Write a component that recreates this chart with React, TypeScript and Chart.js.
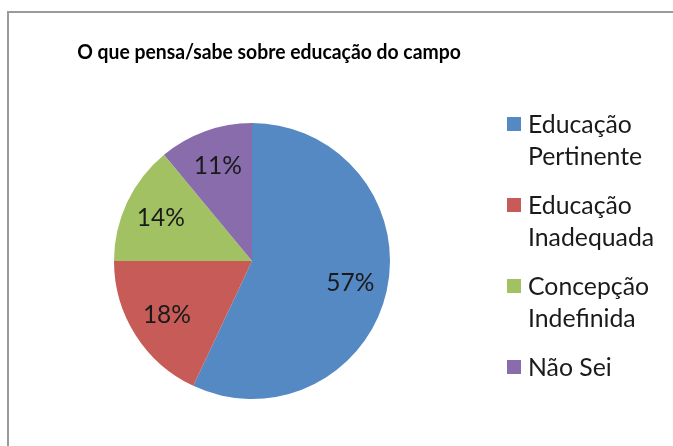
import React, { useEffect, useRef } from "react";
import { Chart, registerables } from "chart.js";

Chart.register(...registerables);

const TITLE = "O que pensa/sabe sobre educação do campo";
const categories: string[][] = [
  ["Educação", "Pertinente"],
  ["Educação", "Inadequada"],
  ["Concepção", "Indefinida"],
  ["Não Sei"],
];
const values = [57, 18, 14, 11];
const colors = ["#5589c4", "#c75b57", "#a2c162", "#896cab"];

const FONT = "Lato, 'Open Sans', sans-serif";

const overlayPlugin = {
  id: "overlay",
  afterDraw(chart: any) {
    const ctx = chart.ctx as CanvasRenderingContext2D;
    ctx.save();
    // title (slightly condensed to mimic Calibri)
    ctx.fillStyle = "#000";
    ctx.font = `bold 21.5px ${FONT}`;
    ctx.textAlign = "center";
    ctx.textBaseline = "alphabetic";
    const sx = 0.9;
    ctx.save();
    ctx.translate(269, 59);
    ctx.scale(sx, 1);
    ctx.fillText(TITLE, 0, 0);
    ctx.restore();

    // data labels
    const meta = chart.getDatasetMeta(0);
    ctx.font = `24.5px ${FONT}`;
    ctx.textAlign = "center";
    ctx.textBaseline = "middle";
    ctx.fillStyle = "#1a1a1a";
    meta.data.forEach((arc: any, i: number) => {
      const { startAngle, endAngle, x, y, outerRadius } = arc.getProps(
        ["startAngle", "endAngle", "x", "y", "outerRadius"],
        true
      );
      const mid = (startAngle + endAngle) / 2;
      const r = outerRadius * 0.73;
      ctx.fillText(values[i] + "%", x + Math.cos(mid) * r, y + Math.sin(mid) * r);
    });

    // legend
    ctx.textAlign = "left";
    ctx.textBaseline = "alphabetic";
    categories.forEach((lines, i) => {
      const top = 117 + i * 81;
      ctx.fillStyle = colors[i];
      ctx.fillRect(507, top, 14, 14);
      ctx.fillStyle = "#1a1a1a";
      ctx.font = `24.8px ${FONT}`;
      lines.forEach((t, j) => {
        ctx.fillText(t, 528, top + 16 + j * 32);
      });
    });
    ctx.restore();
  },
};

export default function App() {
  const ref = useRef<HTMLCanvasElement | null>(null);
  useEffect(() => {
    document.body.style.margin = "0";
    const chart = new Chart(ref.current as HTMLCanvasElement, {
      type: "pie",
      data: {
        labels: categories.map((l) => l.join(" ")),
        datasets: [
          {
            data: values,
            backgroundColor: colors,
            borderWidth: 0,
          },
        ],
      },
      options: {
        animation: false,
        responsive: false,
        layout: { padding: { left: 114, right: 283, top: 123, bottom: 47 } },
        plugins: {
          legend: { display: false },
          title: { display: false },
          tooltip: { enabled: false },
        },
      },
      plugins: [overlayPlugin],
    });
    return () => chart.destroy();
  }, []);
  return (
    <div style={{ position: "absolute", left: 0, top: 0, width: 673, height: 446, background: "#fff", overflow: "hidden" }}>
      <div
        style={{
          position: "absolute",
          left: 7,
          top: 11,
          width: 800,
          height: 600,
          borderLeft: "2px solid #9a9a9a",
          borderTop: "2px solid #9a9a9a",
        }}
      />
      <canvas ref={ref} width={673} height={446} style={{ position: "absolute", left: 0, top: 0, width: 673, height: 446 }} />
    </div>
  );
}
